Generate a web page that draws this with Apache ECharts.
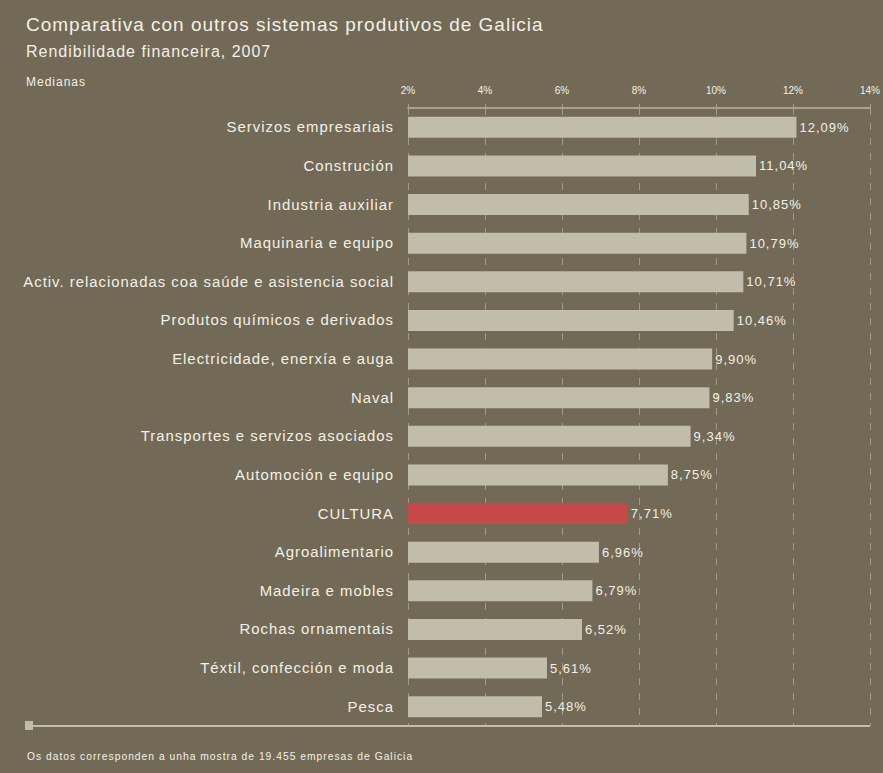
<!DOCTYPE html>
<html>
<head>
<meta charset="utf-8">
<script src="https://cdn.jsdelivr.net/npm/echarts@6/dist/echarts.min.js"></script>
<style>
html,body{margin:0;padding:0;background:#726a56;}
#c{width:883px;height:773px;letter-spacing:1px;}
</style>
</head>
<body>
<div id="c"></div>
<script>
var categories = [
  "Servizos empresariais",
  "Construción",
  "Industria auxiliar",
  "Maquinaria e equipo",
  "Activ. relacionadas coa saúde e asistencia social",
  "Produtos químicos e derivados",
  "Electricidade, enerxía e auga",
  "Naval",
  "Transportes e servizos asociados",
  "Automoción e equipo",
  "CULTURA",
  "Agroalimentario",
  "Madeira e mobles",
  "Rochas ornamentais",
  "Téxtil, confección e moda",
  "Pesca"
];
var values = [12.09, 11.04, 10.85, 10.79, 10.71, 10.46, 9.90, 9.83, 9.34, 8.75, 7.71, 6.96, 6.79, 6.52, 5.61, 5.48];
var highlight = "CULTURA";
var axisMin = 2, axisMax = 14, axisStep = 2;

var txt = '#f3f0e8';
var chart = echarts.init(document.getElementById('c'), null, {renderer: 'svg'});
chart.setOption({
  backgroundColor: '#726a56',
  animation: false,
  title: [
    {text: 'Comparativa con outros sistemas produtivos de Galicia', left: 21, top: 10,
     textStyle: {color: txt, fontSize: 19, fontWeight: 'normal', fontFamily: 'Liberation Sans'}},
    {text: 'Rendibilidade financeira, 2007', left: 21, top: 38,
     textStyle: {color: txt, fontSize: 16, fontWeight: 'normal', fontFamily: 'Liberation Sans'}},
    {text: 'Medianas', left: 21, top: 71,
     textStyle: {color: txt, fontSize: 12, fontWeight: 'normal', fontFamily: 'Liberation Sans'}},
    {text: 'Os datos corresponden a unha mostra de 19.455 empresas de Galicia', left: 22, top: 746,
     textStyle: {color: txt, fontSize: 10.3, fontWeight: 'normal', fontFamily: 'Liberation Sans'}}
  ],
  grid: {left: 408, right: 13, top: 108, bottom: 47, containLabel: false},
  xAxis: {
    type: 'value', position: 'top', min: axisMin, max: axisMax, interval: axisStep,
    axisLine: {show: true, lineStyle: {color: '#a8a190', width: 2}},
    axisTick: {show: true, length: 4, lineStyle: {color: '#a8a190'}},
    axisLabel: {color: txt, fontSize: 10, margin: 13, fontFamily: 'Liberation Sans',
      formatter: function(v){ return v + '%'; }},
    splitLine: {show: true, lineStyle: {color: 'rgba(200,194,178,0.55)', type: [7, 8], width: 1}}
  },
  yAxis: {
    type: 'category', data: categories, inverse: true,
    axisLine: {show: false}, axisTick: {show: false},
    axisLabel: {color: txt, fontSize: 14.9, margin: 14, fontFamily: 'Liberation Sans'}
  },
  series: [{
    type: 'bar', barWidth: 21,
    data: values.map(function(v, i){
      return {value: v, itemStyle: {color: categories[i] === highlight ? '#c84747' : '#c2bcab'}};
    }),
    label: {show: true, position: 'right', distance: 3, color: txt, fontSize: 13,
      fontFamily: 'Liberation Sans',
      formatter: function(p){ return p.value.toFixed(2).replace('.', ',') + '%'; }}
  }],
  graphic: [
    {type: 'line', shape: {x1: 25, y1: 726, x2: 870, y2: 726}, style: {stroke: '#c2bcab', lineWidth: 2}},
    {type: 'rect', shape: {x: 25, y: 721, width: 8, height: 9}, style: {fill: '#c2bcab'}}
  ]
});
function tightTicks(){
  var ts = document.querySelectorAll('#c text');
  for (var i = 0; i < ts.length; i++) {
    if (/^\d+%$/.test(ts[i].textContent.trim())) ts[i].style.letterSpacing = '0px';
  }
}
tightTicks();
chart.on('finished', tightTicks);
</script>
</body>
</html>
